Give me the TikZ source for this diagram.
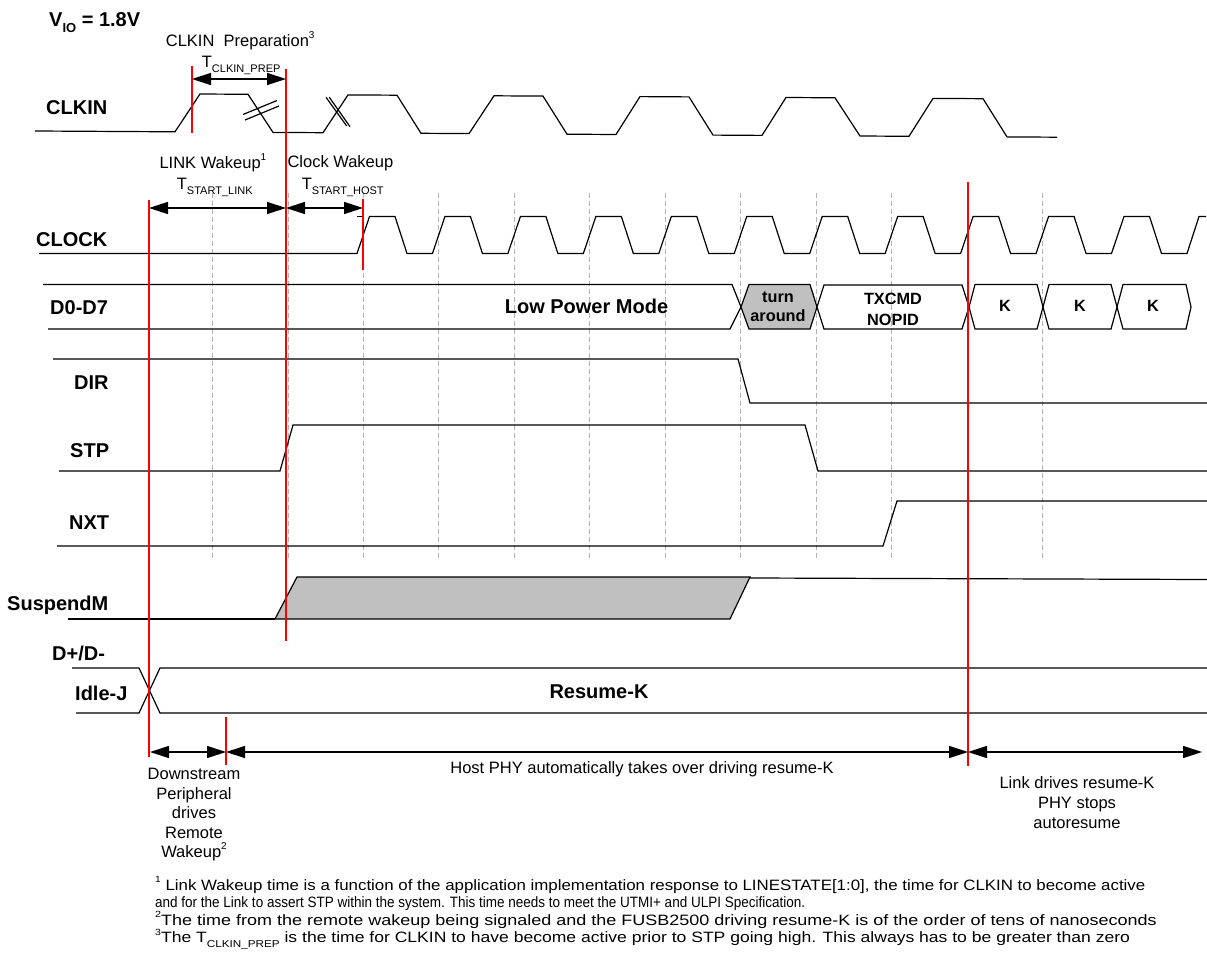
\documentclass[tikz,border=0pt]{standalone}
\usepackage{fontspec}
\setmainfont{Liberation Sans}
\usetikzlibrary{arrows.meta}
\newcommand{\lblfont}{\fontsize{20}{24}\selectfont\bfseries}
\newcommand{\smfont}{\fontsize{16.5}{19.6}\selectfont}
\newcommand{\busfont}{\fontsize{16.3}{19}\selectfont\bfseries}
\newcommand{\ftfont}{\fontsize{15}{17.5}\selectfont}
\newcommand{\mysub}[2][11]{\raisebox{-0.3em}{\fontsize{#1}{#1}\selectfont #2}}
\newcommand{\mysup}[2][10]{\raisebox{0.5em}{\fontsize{#1}{#1}\selectfont #2}}
\definecolor{busgrey}{HTML}{C0C0C0}
\tikzset{
  sig/.style={line width=1.2pt, black, line join=miter},
  redl/.style={line width=2pt, red},
  gridl/.style={line width=0.9pt, black!30, dash pattern=on 5pt off 3pt},
  dim/.style={line width=1.2pt, {Triangle[length=19pt,width=12pt]}-{Triangle[length=19pt,width=12pt]}},
  lbl/.style={inner sep=0pt, anchor=base west, font=\lblfont},
  sml/.style={inner sep=0pt, anchor=base west, font=\smfont},
  smc/.style={inner sep=0pt, anchor=base, font=\smfont},
  busl/.style={inner sep=0pt, anchor=base, font=\busfont},
  ftn/.style={inner sep=0pt, anchor=base west, font=\ftfont},
  bus/.style={line width=1.2pt, black, line join=miter}
}
\begin{document}
\begin{tikzpicture}[x=1pt,y=-1pt]
\fill[white] (0,0) rectangle (1207,976);
\useasboundingbox (0,0) rectangle (1207,976);

% dashed grid
\foreach \k in {0,...,11}{
  \draw[gridl] ({212.5+75.45*\k},193) -- ({212.5+75.45*\k},560);
}

% signal labels
\node[lbl] (vio) at (49,27) {V\mysub[13]{IO} = 1.8V};
\node[lbl] (lclkin) at (46,115) {CLKIN};
\node[lbl] (lclock) at (36,247) {CLOCK};
\node[lbl] (ldata) at (50,314) {D0-D7};
\node[lbl] (ldir) at (74,389) {DIR};
\node[lbl] (lstp) at (70,457) {STP};
\node[lbl] (lnxt) at (69,529) {NXT};
\node[lbl] (lsusp) at (7,610) {SuspendM};
\node[lbl] (ldpdm) at (52,660) {D+/D-};
\node[lbl] (lidle) at (75,700) {Idle-J};

% CLKIN
\draw[sig] (35,131) -- (175,131.8) -- (200,94) -- (248,94.3) -- (273,132.4) -- (323,132.7)
  -- (348,94.9) -- (397,95.2) -- (421,133.3) -- (469,133.6) -- (494,95.8) -- (543,96.1)
  -- (567,134.2) -- (616,134.5) -- (640,96.6) -- (689,96.9) -- (713,135.1) -- (762,135.4)
  -- (786,97.5) -- (835,97.8) -- (860,136) -- (909,136.3) -- (933,98.4) -- (983,98.7)
  -- (1007,136.9) -- (1057,137.2);
\draw[sig] (243,114.5) -- (277,100.5);
\draw[sig] (245,120) -- (279,106);
\draw[sig] (326,97.3) -- (346.7,126);
\draw[sig] (329.3,97.3) -- (350,126.7);

% CLOCK
\draw[sig] (39,253.5) \foreach \n in {0,...,10} { -- ({357+75.45*\n},253.5) -- ({369.5+75.45*\n},216.5) -- ({395+75.45*\n},216.5) -- ({407+75.45*\n},253.5) } -- (1187,253.5) -- (1199,216.5) -- (1206,216.5);
\draw[sig] (357,216.5) -- (362,216.5);

% D0-D7 bus
\draw[bus] (43,284.5) -- (732,284.5) -- (741,307) -- (730,329) -- (48,329);
\node[busl,font=\lblfont] (lpm) at (586.5,313) {Low Power Mode};
\filldraw[bus,fill=busgrey] (741,307) -- (749,284.5) -- (810,284.5) -- (817,307) -- (810,329) -- (749,329) -- cycle;
\node[busl] (ta1) at (778,302) {turn};
\node[busl] (ta2) at (778,321) {around};
\draw[bus] (817,307) -- (824,285) -- (962,285) -- (969,307) -- (962,329) -- (824,329) -- cycle;
\node[busl] (tx1) at (893,305) {TXCMD};
\node[busl] (tx2) at (893,325) {NOPID};
\draw[bus] (969,307) -- (975,284.5) -- (1037,284.5) -- (1043,307) -- (1037,329) -- (975,329) -- cycle;
\draw[bus] (1043,307) -- (1049,284.5) -- (1111,284.5) -- (1117,307) -- (1111,329) -- (1049,329) -- cycle;
\draw[bus] (1117,307) -- (1123,284.5) -- (1186,284.5) -- (1191,307) -- (1186,329) -- (1123,329) -- cycle;
\node[busl] (k1) at (1005,312) {K};
\node[busl] (k2) at (1080,312) {K};
\node[busl] (k3) at (1153,312) {K};

% DIR, STP, NXT
\draw[sig] (53,359) -- (738,359) -- (750,403) -- (1207,403);
\draw[sig] (59,471) -- (280,471) -- (293,425) -- (805,425) -- (818,471) -- (1207,471);
\draw[sig] (57,546) -- (883,546) -- (897,501) -- (1207,501);

% SuspendM
\draw[sig] (68,619) -- (275,619);
\filldraw[sig,fill=busgrey] (275,619) -- (297,577) -- (750,577) -- (730,619) -- cycle;
\draw[sig] (750,578) -- (1207,579.5);

% D+/D-
\draw[sig] (72,668) -- (139,668) -- (160,713) -- (1207,713);
\draw[sig] (76,713) -- (139,713) -- (160,668) -- (1207,668);
\node[busl,font=\lblfont] (resk) at (599,698) {Resume-K};

% red markers
\coordinate (r1t) at (192,66);  \coordinate (r1b) at (192,133);
\coordinate (r2t) at (286,69);  \coordinate (r2b) at (286,641);
\coordinate (r3t) at (363,199); \coordinate (r3b) at (363,270);
\coordinate (r4t) at (149,200); \coordinate (r4b) at (149,757);
\coordinate (r5t) at (226,717); \coordinate (r5b) at (226,765);
\coordinate (r6t) at (968,182); \coordinate (r6b) at (968,766);
\draw[redl] (r1t) -- (r1b);
\draw[redl] (r2t) -- (r2b);
\draw[redl] (r3t) -- (r3b);
\draw[redl] (r4t) -- (r4b);
\draw[redl] (r5t) -- (r5b);
\draw[redl] (r6t) -- (r6b);

% dimension arrows
\coordinate (pa) at (192,79);  \coordinate (pb) at (286,79);
\draw[dim] (pa) -- (pb);
\coordinate (la) at (149,208); \coordinate (lb) at (286,208); \coordinate (lc) at (363,208);
\draw[dim] (la) -- (lb);
\draw[dim] (lb) -- (lc);
\coordinate (ba) at (150,752); \coordinate (bb) at (226,752); \coordinate (bc) at (968,752); \coordinate (bd) at (1202,752);
\draw[dim] (ba) -- (bb);
\draw[dim] (bb) -- (bc);
\draw[dim] (bc) -- (bd);

% timing labels
\node[sml] (prep) at (165.7,47) {CLKIN\ \ Preparation\mysup{3}};
\node[sml] (tprep) at (201.7,68) {T\mysub{CLKIN\_PREP}};
\node[sml] (lwk) at (159.3,168.3) {LINK Wakeup\mysup{1}};
\node[sml] (tlink) at (176.7,189.3) {T\mysub{START\_LINK}};
\node[sml] (cwk) at (287.3,167.3) {Clock Wakeup};
\node[sml] (thost) at (301.7,189.3) {T\mysub{START\_HOST}};

% bottom texts
\node[smc] (ds1) at (194,779.5) {Downstream};
\node[smc] (ds2) at (194,799) {Peripheral};
\node[smc] (ds3) at (194,818.5) {drives};
\node[smc] (ds4) at (194,838) {Remote};
\node[smc] (ds5) at (194,857.5) {Wakeup\mysup{2}};
\node[smc] (host) at (642,773) {Host PHY automatically takes over driving resume-K};
\node[smc] (lk1) at (1077,788) {Link drives resume-K};
\node[smc] (lk2) at (1077,808) {PHY stops};
\node[smc] (lk3) at (1077,828) {autoresume};

% footnotes
\node[ftn] (f1) at (155,890) {\scalebox{1.125}[1]{\mysup[9]{1} Link Wakeup time is a function of the application implementation response to LINESTATE[1:0], the time for CLKIN to become active}};
\node[ftn] (f2) at (155,907.5) {\scalebox{0.9}[1]{and for the Link to assert STP within the system. This time needs to meet the UTMI+ and ULPI Specification.}};
\node[ftn] (f3) at (155,925) {\scalebox{1.2}[1]{\mysup[9]{2}The time from the remote wakeup being signaled and the FUSB2500 driving resume-K is of the order of tens of nanoseconds}};
\node[ftn] (f4) at (155,942.5) {\scalebox{1.17}[1]{\mysup[9]{3}The T\mysub[10]{CLKIN\_PREP} is the time for CLKIN to have become active prior to STP going high. This always has to be greater than zero}};
\end{tikzpicture}
\end{document}
